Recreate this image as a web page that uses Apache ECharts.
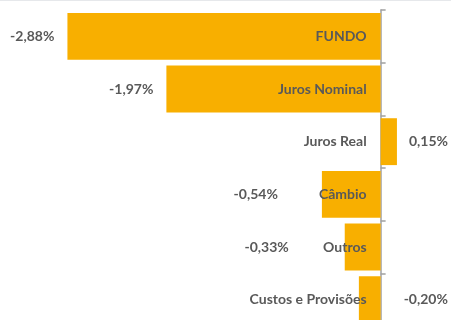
<!DOCTYPE html>
<html>
<head>
<meta charset="utf-8">
<script src="https://cdn.jsdelivr.net/npm/echarts@6/dist/echarts.min.js"></script>
<style>
  html, body { margin: 0; padding: 0; background: #fff; }
  #chart { width: 451px; height: 320px; }
</style>
</head>
<body>
<div id="chart"></div>
<script>
// Attribution of the fund's return by factor (%)
const categories = ['FUNDO', 'Juros Nominal', 'Juros Real', 'Câmbio', 'Outros', 'Custos e Provisões'];
const values = [-2.88, -1.97, 0.15, -0.54, -0.33, -0.20];

// Label placement per factor, kept clear of the factor names
const labelPlacement = {
  'FUNDO': { position: 'left', distance: 13 },
  'Juros Nominal': { position: 'left', distance: 13 },
  'Juros Real': { position: 'right', distance: 12 },
  'Câmbio': { position: 'left', distance: 44 },
  'Outros': { position: 'left', distance: 56 },
  'Custos e Provisões': { position: 'right', distance: 23 }
};

const textColor = '#595959';
const fontFamily = 'Lato, "Open Sans", sans-serif';
const textStyle = { color: textColor, fontFamily: fontFamily, fontWeight: 'bold', fontSize: 14, opacity: 1 };

const fmt = v => v.toFixed(2).replace('.', ',') + '%';

const chart = echarts.init(document.getElementById('chart'), null, { renderer: 'canvas' });

chart.setOption({
  backgroundColor: '#ffffff',
  animation: false,
  graphic: [{
    type: 'rect',
    shape: { x: 0, y: 0, width: 451, height: 1 },
    style: { fill: '#e6e8eb' },
    silent: true
  }],
  grid: { left: 0, width: 435, top: 10, bottom: -6, containLabel: false, outerBoundsMode: 'none' },
  xAxis: {
    type: 'value',
    min: -3.5,
    max: 0.5,
    show: false,
    splitLine: { show: false }
  },
  yAxis: {
    type: 'category',
    inverse: true,
    data: categories,
    axisLine: { show: true, onZero: true, lineStyle: { color: '#a0a0a0', width: 1.5 } },
    axisTick: { show: true, inside: true, length: 5, alignWithLabel: false, lineStyle: { color: '#a0a0a0', width: 1.5 } },
    axisLabel: { show: false },
    splitLine: { show: false }
  },
  series: [{
    type: 'bar',
    barCategoryGap: '11%',
    itemStyle: { color: '#F8AF00' },
    z: 1,
    data: values.map((v, i) => ({
      value: v,
      label: Object.assign({
        show: true,
        position: labelPlacement[categories[i]].position,
        distance: labelPlacement[categories[i]].distance,
        formatter: fmt(v)
      }, textStyle)
    }))
  }, {
    // factor names, anchored at the zero line
    type: 'scatter',
    symbolSize: 0,
    silent: true,
    z: 3,
    itemStyle: { opacity: 1 },
    data: categories.map(c => [0, c]),
    label: Object.assign({
      show: true,
      position: 'left',
      distance: 14,
      formatter: p => p.data[1]
    }, textStyle)
  }]
});
</script>
</body>
</html>
